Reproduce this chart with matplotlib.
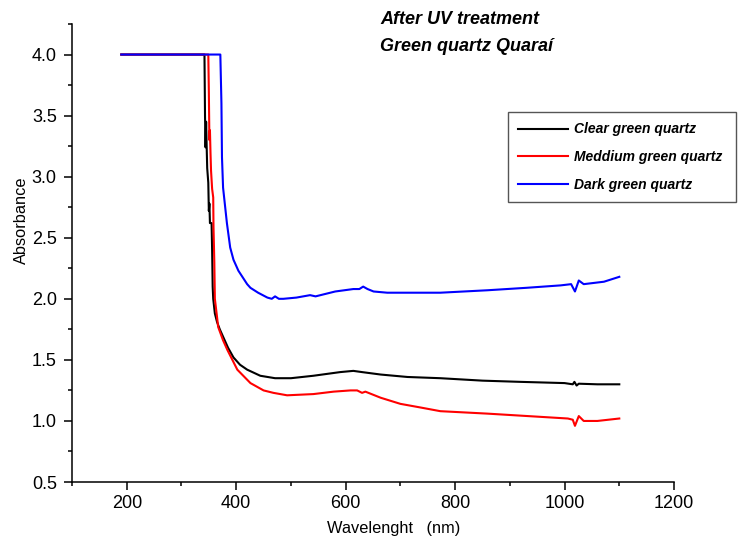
import matplotlib
matplotlib.use("Agg")
import matplotlib.pyplot as plt
from matplotlib.ticker import MultipleLocator

plt.rcParams['font.family'] = ['Liberation Sans', 'DejaVu Sans']

wl_clear = [190, 342, 343, 344, 345, 346, 347, 349, 350, 351, 352, 355, 356, 357, 358,
            361, 365, 370, 376, 385, 395, 407, 420, 444, 471, 500, 541, 590, 614, 630,
            664, 713, 773, 850, 920, 1000, 1015, 1018, 1022, 1026, 1060, 1100]
abs_clear = [4.0, 4.0, 3.5, 3.24, 3.45, 3.25, 3.07, 2.95, 2.72, 2.78, 2.62, 2.62, 2.4, 2.1, 2.0,
             1.88, 1.81, 1.75, 1.69, 1.60, 1.52, 1.46, 1.42, 1.37, 1.35, 1.35, 1.37, 1.40, 1.41, 1.40,
             1.38, 1.36, 1.35, 1.33, 1.32, 1.31, 1.30, 1.32, 1.29, 1.305, 1.30, 1.30]

wl_medium = [190, 349, 350, 351, 352, 353, 354, 356, 358, 358.5, 360, 361, 365, 367, 376,
             384, 402, 426, 450, 468, 493, 541, 578, 609, 621, 630, 636, 664, 700, 737,
             773, 859, 1006, 1015, 1019, 1026, 1035, 1060, 1100]
abs_medium = [4.0, 4.0, 3.7, 3.3, 3.38, 3.2, 3.05, 2.9, 2.83, 2.59, 2.3, 2.0, 1.85, 1.77, 1.66,
              1.58, 1.42, 1.31, 1.25, 1.23, 1.21, 1.22, 1.24, 1.25, 1.25, 1.23, 1.24, 1.19, 1.14, 1.11,
              1.08, 1.06, 1.02, 1.01, 0.96, 1.04, 1.0, 1.0, 1.02]

wl_dark = [190, 371, 373, 374, 376, 383, 389, 395, 404, 420, 426, 440, 457, 465, 471,
           478, 486, 510, 535, 545, 581, 614, 625, 632, 640, 651, 676, 724, 773, 859,
           930, 993, 1012, 1019, 1026, 1035, 1072, 1100]
abs_dark = [4.0, 4.0, 3.6, 3.16, 2.91, 2.62, 2.42, 2.32, 2.23, 2.12, 2.09, 2.05, 2.01, 2.0, 2.02,
            2.0, 2.0, 2.01, 2.03, 2.02, 2.06, 2.08, 2.08, 2.10, 2.08, 2.06, 2.05, 2.05, 2.05, 2.07,
            2.09, 2.11, 2.12, 2.06, 2.15, 2.12, 2.14, 2.18]

fig = plt.figure(figsize=(7.38, 5.48), dpi=100)
ax = fig.add_axes([0.0976, 0.1204, 0.8157, 0.8358])

ax.plot(wl_clear, abs_clear, color='black', lw=1.5, label='Clear green quartz')
ax.plot(wl_medium, abs_medium, color='#ff0000', lw=1.5, label='Meddium green quartz')
ax.plot(wl_dark, abs_dark, color='#0000ff', lw=1.5, label='Dark green quartz')

ax.set_xlim(100, 1200)
ax.set_ylim(0.5, 4.25)
ax.xaxis.set_major_locator(MultipleLocator(200))
ax.xaxis.set_minor_locator(MultipleLocator(100))
ax.yaxis.set_major_locator(MultipleLocator(0.5))
ax.yaxis.set_minor_locator(MultipleLocator(0.25))
ax.yaxis.set_major_formatter(matplotlib.ticker.FormatStrFormatter('%.1f'))

for s in ['top', 'right']:
    ax.spines[s].set_visible(False)
for s in ['left', 'bottom']:
    ax.spines[s].set_linewidth(1.1)

ax.tick_params(which='major', length=6, width=1.1, labelsize=13)
ax.tick_params(which='minor', length=3, width=1.1)
ax.tick_params(axis='x', which='major', pad=3)
ax.tick_params(axis='y', which='major', pad=5)

ax.set_xlabel('Wavelenght   (nm)', fontsize=11.8)
ax.set_ylabel('Absorbance', fontsize=11.8)
ax.xaxis.set_label_coords(0.534, -0.085)
ax.yaxis.set_label_coords(-0.071, 0.572)

fig.text(0.515, 1 - 24 / 548, 'After UV treatment', fontsize=13,
         fontweight='bold', fontstyle='italic', va='baseline')
fig.text(0.515, 1 - 51 / 548, 'Green quartz Quaraí', fontsize=13,
         fontweight='bold', fontstyle='italic', va='baseline')

leg = fig.legend(loc='upper left', bbox_to_anchor=(508 / 738, 1 - 112 / 548, 228 / 738, 0.0),
                 mode='expand', borderaxespad=0, fancybox=False, framealpha=1,
                 edgecolor='#555555', handlelength=3.6, handletextpad=0.4,
                 labelspacing=0.98, borderpad=0.75,
                 prop={'weight': 'bold', 'style': 'italic', 'size': 10})
leg.get_frame().set_linewidth(1.0)

fig.savefig('out.png', dpi=100)
